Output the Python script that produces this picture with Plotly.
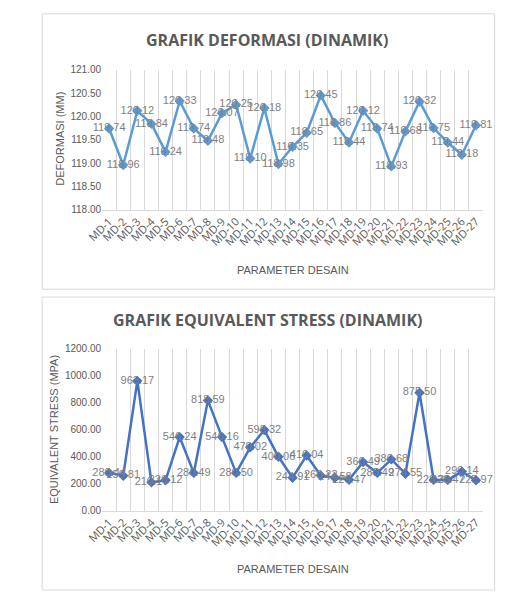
import plotly.graph_objects as go

categories = [f"MD-{i}" for i in range(1, 28)]

deformasi = [119.74, 118.96, 120.12, 119.84, 119.24, 120.33, 119.74, 119.48, 120.07,
             120.25, 119.10, 120.18, 118.98, 119.35, 119.65, 120.45, 119.86, 119.44,
             120.12, 119.74, 118.93, 119.68, 120.32, 119.75, 119.44, 119.18, 119.81]

stress = [280.44, 259.81, 963.17, 210.17, 226.12, 546.24, 280.49, 818.59, 546.16,
          280.50, 470.02, 598.32, 400.06, 244.91, 410.04, 260.22, 244.58, 229.47,
          360.49, 280.49, 380.68, 274.55, 875.50, 228.30, 228.47, 290.14, 225.97]

W, H = 513, 599
def py(p):
    return 1 - p / H
def px(p):
    return p / W

GRAY = "#595959"
LABEL_GRAY = "#7f7f7f"
YTICKFONT = dict(family="Liberation Sans Narrow, Arial Narrow, sans-serif", size=10, color=GRAY)
XTICKFONT = dict(family="Open Sans, sans-serif", size=11, color=GRAY)

fig = go.Figure()

fig.add_trace(go.Scatter(
    x=categories, y=deformasi, mode="lines+markers+text",
    text=[f"{v:.2f}" for v in deformasi], textposition="middle center",
    textfont=dict(family="Liberation Sans Narrow, sans-serif", size=11, color=LABEL_GRAY),
    line=dict(color="#5B9BD5", width=2.5),
    marker=dict(symbol="diamond", size=8, color="#5B9BD5"),
    xaxis="x", yaxis="y", showlegend=False, cliponaxis=False))

fig.add_trace(go.Scatter(
    x=categories, y=stress, mode="lines+markers+text",
    text=[f"{v:.2f}" for v in stress], textposition="middle center",
    textfont=dict(family="Liberation Sans Narrow, sans-serif", size=11, color=LABEL_GRAY),
    line=dict(color="#4472C4", width=2.5),
    marker=dict(symbol="diamond", size=8, color="#4472C4"),
    xaxis="x2", yaxis="y2", showlegend=False, cliponaxis=False))

xdom = [px(88), px(482)]
xcommon = dict(type="category", tickson="boundaries", showgrid=True, gridcolor="#d9d9d9",
               gridwidth=1, tickangle=-45, tickfont=XTICKFONT, showline=True,
               linecolor="#d9d9d9", ticks="", mirror=False, zeroline=False)
ycommon = dict(showgrid=False, tickformat=".2f", tickfont=YTICKFONT, showline=False,
               zeroline=False, ticks="")

fig.update_layout(
    width=W, height=H, margin=dict(l=0, r=0, t=0, b=0),
    paper_bgcolor="white", plot_bgcolor="white",
    xaxis=dict(domain=xdom, anchor="y", range=[-0.5, 26.5], **xcommon),
    yaxis=dict(domain=[py(208), py(65)], anchor="x", range=[118, 121], dtick=0.5, **ycommon),
    xaxis2=dict(domain=xdom, anchor="y2", range=[-0.5, 26.5], **xcommon),
    yaxis2=dict(domain=[py(515), py(350)], anchor="x2", range=[0, 1200], dtick=200, **ycommon),
)

# Chart borders
for (y0, y1) in [(8, 289), (297, 596)]:
    fig.add_shape(type="rect", xref="paper", yref="paper",
                  x0=px(26), x1=px(494), y0=py(y1), y1=py(y0),
                  line=dict(color="#d9d9d9", width=1), fillcolor="rgba(0,0,0,0)", layer="below")

TITLEFONT = dict(family="Open Sans, sans-serif", size=16, color=GRAY)
AXFONT = dict(family="Liberation Sans Narrow, sans-serif", size=11, color=GRAY)

annotations = [
    dict(text="<b>GRAFIK DEFORMASI (DINAMIK)</b>", x=px(259), y=py(35), font=TITLEFONT),
    dict(text="<b>GRAFIK EQUIVALENT STRESS (DINAMIK)</b>", x=px(259), y=py(320), font=TITLEFONT),
    dict(text="PARAMETER DESAIN", x=px(285), y=py(269), font=AXFONT),
    dict(text="PARAMETER DESAIN", x=px(285), y=py(574), font=AXFONT),
    dict(text="DEFORMASI (MM)", x=px(45), y=py(136), font=AXFONT, textangle=-90),
    dict(text="EQUIVALENT STRESS (MPA)", x=px(39), y=py(432), font=AXFONT, textangle=-90),
]
for a in annotations:
    fig.add_annotation(xref="paper", yref="paper", showarrow=False,
                       xanchor="center", yanchor="middle", **a)

fig.write_html("out.html")
